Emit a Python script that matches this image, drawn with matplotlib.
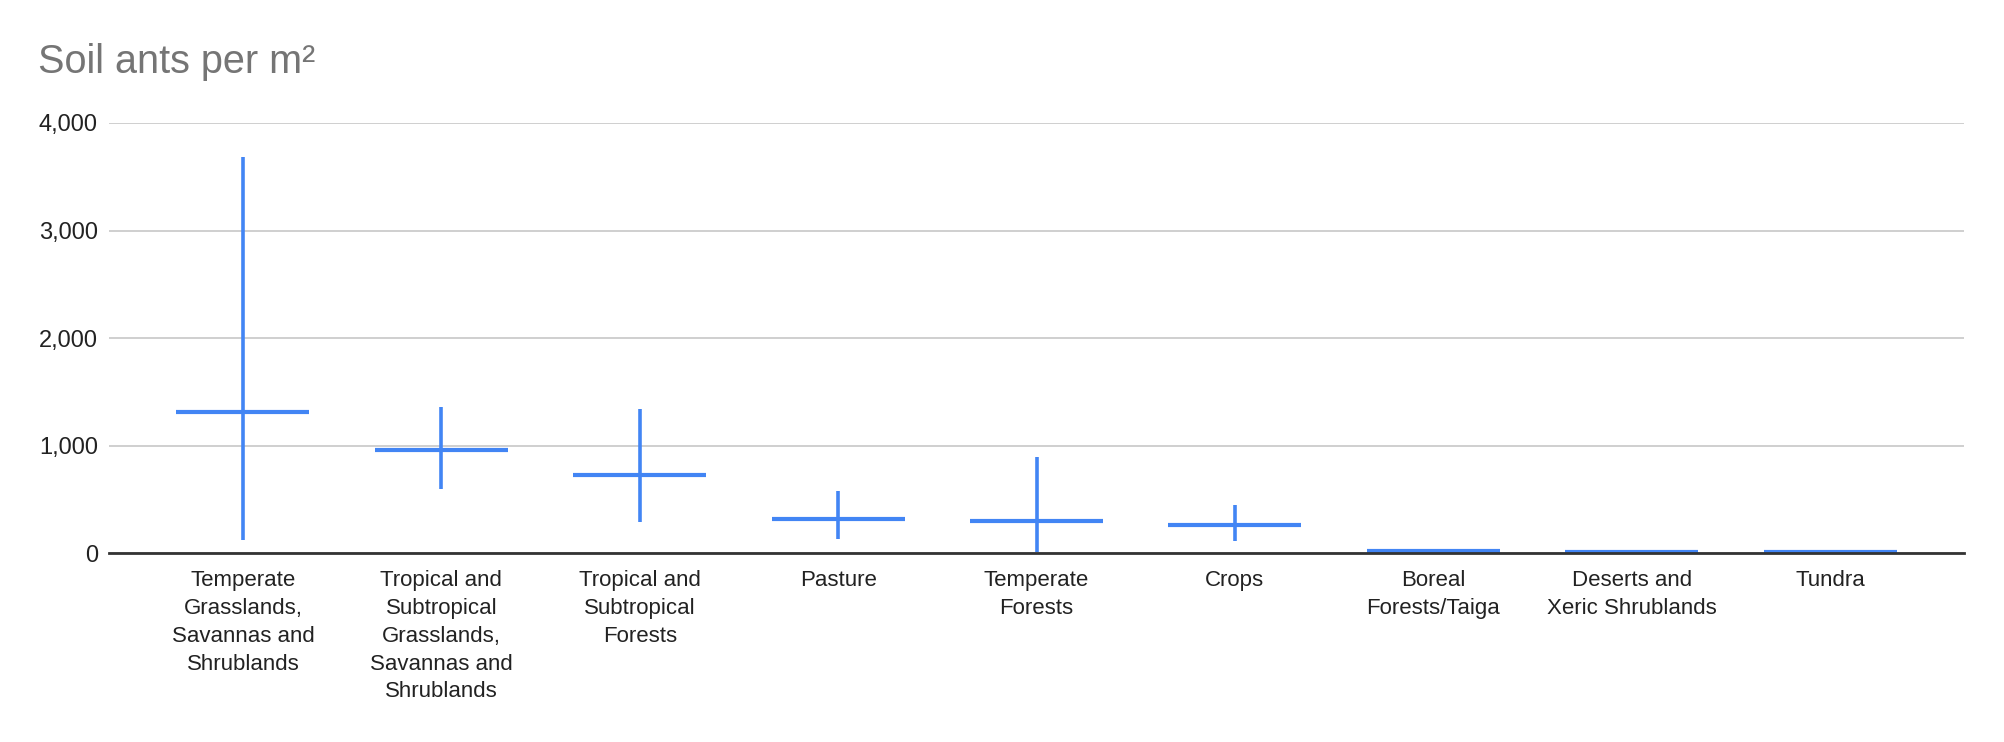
import numpy as np
import matplotlib.pyplot as plt

categories = [
    "Temperate\nGrasslands,\nSavannas and\nShrublands",
    "Tropical and\nSubtropical\nGrasslands,\nSavannas and\nShrublands",
    "Tropical and\nSubtropical\nForests",
    "Pasture",
    "Temperate\nForests",
    "Crops",
    "Boreal\nForests/Taiga",
    "Deserts and\nXeric Shrublands",
    "Tundra",
]
mean = [1315, 955, 722, 315, 297, 262, 15, 10, 6]
low = [124, 600, 290, 128, 12, 110, 15, 10, 6]
high = [3680, 1360, 1340, 580, 892, 446, 15, 10, 6]

blue = "#4285F4"
plt.rcParams["font.family"] = ["Liberation Sans", "DejaVu Sans"]

fig = plt.figure(figsize=(20.04, 7.42), dpi=100)
ax = fig.add_axes([109 / 2004, 1 - 553 / 742, (1964 - 109) / 2004, (553 - 123) / 742])

x = np.arange(len(categories))
ax.vlines(x, low, high, color=blue, lw=2.6, zorder=3)
ax.hlines(mean, x - 0.335, x + 0.335, color=blue, lw=3.0, zorder=3)

ax.set_xlim(-0.675, len(categories) - 1 + 0.675)
ax.set_ylim(0, 4000)
ax.set_yticks([0, 1000, 2000, 3000, 4000])
ax.set_yticklabels([f"{v:,}" for v in [0, 1000, 2000, 3000, 4000]], fontsize=17)
ax.set_xticks(x)
ax.set_xticklabels(categories, linespacing=1.42, fontsize=16)
ax.tick_params(axis="both", length=0, colors="#222222")
ax.tick_params(axis="y", pad=8)
ax.tick_params(axis="x", pad=12.5)

ax.grid(axis="y", color="#cccccc", lw=1.3)
ax.set_axisbelow(True)
for s in ["top", "right", "left"]:
    ax.spines[s].set_visible(False)
ax.spines["bottom"].set_color("#333333")
ax.spines["bottom"].set_linewidth(2)
ax.spines["bottom"].set_zorder(4)

fig.text(38 / 2004, 1 - 73 / 742, "Soil ants per m²", fontsize=28.5, color="#757575", va="baseline")

fig.savefig("out.png", dpi=100)
